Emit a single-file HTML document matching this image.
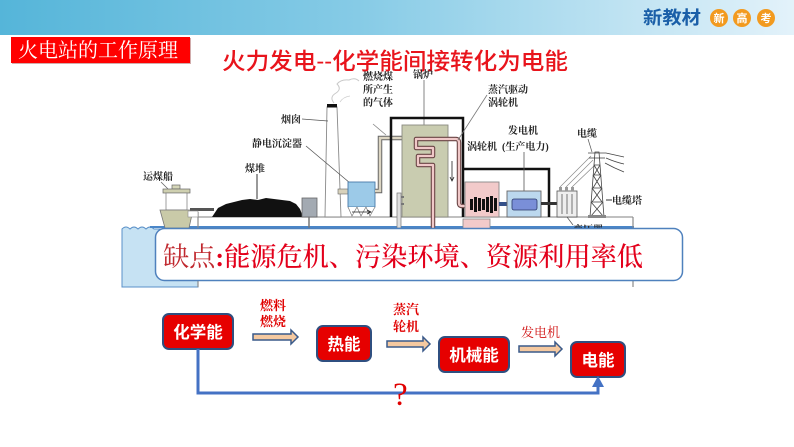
<!DOCTYPE html>
<html>
<head>
<meta charset="utf-8">
<style>
html,body{margin:0;padding:0;background:#fff;}
body{width:794px;height:447px;overflow:hidden;}
svg{display:block;}
.lbl{font-family:"Liberation Serif","Noto Serif CJK SC",serif;font-weight:700;font-size:10px;fill:#222;}
.sans{font-family:"Liberation Sans","Noto Sans CJK SC",sans-serif;}
.serif{font-family:"Liberation Serif","Noto Serif CJK SC",serif;}
</style>
</head>
<body>
<svg width="794" height="447" viewBox="0 0 794 447" xmlns="http://www.w3.org/2000/svg">
<defs>
<linearGradient id="hdr" x1="0" y1="0" x2="1" y2="0">
<stop offset="0" stop-color="#55b5d9"/>
<stop offset="0.45" stop-color="#86cbe6"/>
<stop offset="1" stop-color="#e3f2fa"/>
</linearGradient>
</defs>

<!-- header -->
<rect x="0" y="0" width="794" height="35" fill="url(#hdr)"/>
<text x="643" y="24" class="sans" font-size="18" font-weight="700" fill="#1a5fa8" textLength="58" lengthAdjust="spacingAndGlyphs">新教材</text>
<circle cx="719" cy="18" r="9" fill="#f29a1f"/>
<circle cx="742" cy="18" r="9" fill="#f29a1f"/>
<circle cx="766" cy="18" r="9" fill="#f29a1f"/>
<text x="719" y="22" class="sans" font-size="11" font-weight="700" fill="#fff" text-anchor="middle">新</text>
<text x="742" y="22" class="sans" font-size="11" font-weight="700" fill="#fff" text-anchor="middle">高</text>
<text x="766" y="22" class="sans" font-size="11" font-weight="700" fill="#fff" text-anchor="middle">考</text>

<!-- red label -->
<rect x="12" y="38" width="179" height="26" fill="#7a1010" opacity="0.35"/>
<rect x="11" y="37" width="179" height="26" fill="#ff0000"/>
<text x="18" y="57" class="serif" font-size="20" fill="#fff" textLength="160" lengthAdjust="spacingAndGlyphs">火电站的工作原理</text>

<!-- title -->
<text x="222" y="69" class="sans" font-size="23" font-weight="500" fill="#e8141c" textLength="346" lengthAdjust="spacingAndGlyphs">火力发电--化学能间接转化为电能</text>

<!-- ===== power plant drawing ===== -->
<!-- water -->
<path d="M122 229 q4 -4 8 0 q4 -4 8 0 q4 -4 8 0 q4 -4 8 0 L198 229 L198 287 L122 287 Z" fill="#c6e2f3" stroke="#5a90c8" stroke-width="1"/>
<line x1="150" y1="227" x2="634" y2="227" stroke="#4a86c8" stroke-width="2"/>

<!-- base platform -->
<line x1="198" y1="217" x2="633" y2="217" stroke="#9a9a9a" stroke-width="1.2"/>
<line x1="198" y1="212" x2="198" y2="287" stroke="#8a8a8a" stroke-width="1.2"/>
<line x1="633" y1="217" x2="633" y2="287" stroke="#8a8a8a" stroke-width="1.2"/>

<!-- ship -->
<text x="143" y="180" class="lbl">运煤船</text>
<line x1="161" y1="182" x2="168" y2="189" stroke="#666" stroke-width="0.8"/>
<rect x="172" y="185" width="8" height="4" fill="#d5d6b8" stroke="#666" stroke-width="0.7"/>
<rect x="163" y="189" width="27" height="4" fill="#cfd0b0" stroke="#666" stroke-width="0.7"/>
<rect x="166" y="193" width="21" height="17" fill="#fff" stroke="#777" stroke-width="0.7"/>
<path d="M160 210 L193 210 L189 228 L165 228 Z" fill="#c9caa8" stroke="#777" stroke-width="0.8"/>
<rect x="190" y="208" width="24" height="3" fill="#555"/>
<rect x="188" y="211" width="10" height="6" fill="#fff" stroke="#888" stroke-width="0.6"/>

<!-- coal pile -->
<text x="245" y="172" class="lbl">煤堆</text>
<line x1="257" y1="174" x2="257" y2="199" stroke="#333" stroke-width="1"/>
<path d="M212 217 L218 208 L226 204 L234 202 L242 200 L250 199 L258 200 L266 198 L274 199 L282 200 L290 201 L296 204 L300 209 L303 217 Z" fill="#111"/>
<rect x="302" y="198" width="15" height="19" fill="#a3aab2" stroke="#666" stroke-width="0.8"/>
<line x1="309" y1="217" x2="309" y2="228" stroke="#777" stroke-width="1.5"/>

<!-- chimney -->
<path d="M334 103 q-5 -6 2 -10 q6 -4 1 -9 q4 -5 12 -4 q6 -3 10 1" fill="none" stroke="#c8c8c8" stroke-width="1"/>
<path d="M340 102 q3 -5 10 -6" fill="none" stroke="#d0d0d0" stroke-width="0.8"/>
<polygon points="327,107 337,107 341,217 325,217" fill="#fff" stroke="#8a8a8a" stroke-width="0.9"/>
<rect x="327" y="104" width="10" height="3.5" fill="#111"/>
<text x="281" y="123" class="lbl">烟囱</text>
<line x1="302" y1="119" x2="328" y2="121" stroke="#555" stroke-width="0.8"/>

<!-- precipitator -->
<text x="252" y="147" class="lbl">静电沉淀器</text>
<line x1="306" y1="146" x2="350" y2="183" stroke="#555" stroke-width="0.8"/>
<rect x="338" y="189" width="10" height="5" fill="#d8d2bc" stroke="#666" stroke-width="0.6"/>
<rect x="348" y="182" width="27" height="25" fill="#9ccae8" stroke="#4a7aa8" stroke-width="0.9"/>
<path d="M348 207 L352 216 L357 207 L361 216 L366 207 L370 216 L375 207" fill="#fff" stroke="#777" stroke-width="0.7"/>
<!-- gas pipe -->
<path d="M375 191 H380 V138 H402" fill="none" stroke="#666" stroke-width="4.5"/>
<path d="M375 191 H380 V138 H402" fill="none" stroke="#dcd5c2" stroke-width="2.5"/>
<text class="lbl"><tspan x="363" y="80">燃烧煤</tspan><tspan x="363" y="93">所产生</tspan><tspan x="363" y="106">的气体</tspan></text>
<line x1="373" y1="124" x2="386" y2="135" stroke="#888" stroke-width="0.8"/>
<path d="M352 212 H370" stroke="#222" stroke-width="0.8"/>
<path d="M367 210 L371 212 L367 214" fill="none" stroke="#222" stroke-width="0.8"/>

<!-- boiler -->
<text x="413" y="78" class="lbl">锅炉</text>
<line x1="424" y1="80" x2="424" y2="126" stroke="#666" stroke-width="0.8"/>
<path d="M391 217 V118 H463 V217" fill="none" stroke="#111" stroke-width="2.5"/>
<path d="M463 169 H549 V217" fill="none" stroke="#111" stroke-width="2.5"/>
<rect x="402" y="125" width="46" height="92" fill="#c9ccb0" stroke="#8a8a80" stroke-width="0.9"/>
<g fill="none" stroke-linejoin="round" stroke-linecap="round">
<path d="M433 228 V165 H418 V156 H433 V148 H416 V139 H456 Q459 139 459 143 V203 Q459 206 462 206 H472" stroke="#6a4545" stroke-width="4.5"/>
<path d="M433 228 V165 H418 V156 H433 V148 H416 V139 H456 Q459 139 459 143 V203 Q459 206 462 206 H472" stroke="#f0c8c8" stroke-width="2.3"/>
</g>
<line x1="452" y1="161" x2="452" y2="180" stroke="#222" stroke-width="0.8"/>
<path d="M450 177 L452 181 L454 177" fill="none" stroke="#222" stroke-width="0.8"/>
<rect x="397" y="193" width="4" height="35" fill="#e0e0e0" stroke="#777" stroke-width="0.7"/>
<rect x="401" y="196" width="3" height="2" fill="#777"/>
<rect x="401" y="203" width="3" height="2" fill="#777"/>
<line x1="487" y1="95" x2="458" y2="140" stroke="#777" stroke-width="0.8"/>
<text class="lbl" font-weight="600"><tspan x="488" y="93">蒸汽驱动</tspan><tspan x="488" y="106">涡轮机</tspan></text>
<text x="467" y="150" class="lbl" font-weight="600">涡轮机</text>

<!-- turbine -->
<rect x="465" y="182" width="34" height="35" fill="#f2caca" stroke="#888" stroke-width="0.9"/>
<rect x="463" y="219" width="27" height="10" fill="#f2caca" stroke="#888" stroke-width="0.8"/>
<g fill="#111">
<rect x="470" y="199" width="3" height="11"/>
<rect x="474" y="197" width="3" height="15"/>
<rect x="478" y="198" width="3" height="13"/>
<rect x="482" y="199" width="3" height="11"/>
<rect x="486" y="197" width="3" height="15"/>
<rect x="490" y="196" width="3" height="17"/>
<rect x="494" y="198" width="3" height="13"/>
</g>
<rect x="499" y="202" width="14" height="4" fill="#34508a"/>

<!-- generator -->
<text x="508" y="134" class="lbl" font-size="11">发电机</text>
<text x="502" y="150" class="lbl" font-weight="600">(生产电力)</text>
<line x1="524" y1="152" x2="524" y2="191" stroke="#555" stroke-width="0.8"/>
<rect x="507" y="191" width="34" height="26" fill="#bcd8ee" stroke="#666" stroke-width="0.9"/>
<rect x="512" y="199" width="25" height="11" rx="2" fill="#7a8fd8" stroke="#2a3a6a" stroke-width="0.8"/>
<rect x="541" y="202" width="16" height="3" fill="#333"/>

<!-- transformer -->
<rect x="557" y="191" width="20" height="26" fill="#eeeeee" stroke="#555" stroke-width="0.8"/>
<line x1="562" y1="194" x2="562" y2="214" stroke="#555" stroke-width="0.8"/>
<line x1="567" y1="194" x2="567" y2="214" stroke="#555" stroke-width="0.8"/>
<line x1="572" y1="194" x2="572" y2="214" stroke="#555" stroke-width="0.8"/>
<rect x="559" y="187" width="3" height="4" fill="#999"/>
<rect x="565" y="187" width="3" height="4" fill="#999"/>
<rect x="571" y="187" width="3" height="4" fill="#999"/>
<path d="M560 187 L591 156 M566 187 L593 160 M572 187 L595 165" stroke="#888" stroke-width="0.7" fill="none"/>
<text x="573" y="233" class="lbl">变压器</text>
<line x1="567" y1="217" x2="573" y2="225" stroke="#555" stroke-width="0.7"/>

<!-- tower -->
<g stroke="#444" stroke-width="0.8" fill="none">
<path d="M590 217 L595 152 L599 152 L604 217"/>
<path d="M588 153 H606"/>
<path d="M589 158 H605"/>
<path d="M594 165 L600 175 M600 165 L594 175 M593 175 L601 188 M601 175 L593 188 M592 188 L602 202 M602 188 L592 202 M591 202 L603 216 M603 202 L591 216"/>
<path d="M594 165 H600 M593 175 H601 M592 188 H602 M591 202 H603"/>
<path d="M606 153 Q615 155 624 157 M606 158 Q615 162 624 164 M605 163 Q614 168 624 172"/>
</g>
<rect x="588" y="215" width="18" height="3" fill="#888"/>
<text x="577" y="137" class="lbl">电缆</text>
<line x1="588" y1="139" x2="592" y2="152" stroke="#555" stroke-width="0.7"/>
<line x1="606" y1="200" x2="612" y2="200" stroke="#333" stroke-width="1"/>
<text x="612" y="204" class="lbl">电缆塔</text>

<!-- ===== callout ===== -->
<rect x="155.5" y="228.5" width="527" height="52" rx="9" fill="#fff" stroke="#4f81bd" stroke-width="1.5"/>
<text x="163" y="266" class="serif" font-size="26.5" textLength="480" lengthAdjust="spacingAndGlyphs"><tspan fill="#c0282e">缺点</tspan><tspan fill="#e3001b" font-weight="700">:</tspan><tspan fill="#e3001b" font-weight="500">能源危机、污染环境、资源利用率低</tspan></text>

<!-- ===== flow ===== -->
<g stroke="#2f4f80" stroke-width="2" fill="#e60000">
<rect x="163" y="314" width="70" height="35" rx="6"/>
<rect x="317" y="326" width="54" height="35" rx="6"/>
<rect x="439" y="337" width="70" height="35" rx="6"/>
<rect x="571" y="342" width="54" height="35" rx="6"/>
</g>
<g class="sans" font-size="16.5" font-weight="700" fill="#fff" text-anchor="middle">
<text x="198" y="338">化学能</text>
<text x="344" y="350">热能</text>
<text x="474" y="361">机械能</text>
<text x="598" y="366">电能</text>
</g>

<g fill="#f5c9a0" stroke="#3a5a8a" stroke-width="1.5" stroke-linejoin="miter">
<path d="M253 334 H291 V330 L298 337 L291 344 V340 H253 Z"/>
<path d="M387 341 H423 V337 L430 344 L423 351 V347 H387 Z"/>
<path d="M519 346 H555 V342 L562 349 L555 356 V352 H519 Z"/>
</g>

<g class="serif" font-size="13" font-weight="700" fill="#e00000">
<text x="260" y="310">燃料</text>
<text x="260" y="326">燃烧</text>
<text x="393" y="314">蒸汽</text>
<text x="393" y="331">轮机</text>
</g>
<text x="521" y="337" class="serif" font-size="13" fill="#d01010" textLength="39" lengthAdjust="spacingAndGlyphs">发电机</text>

<path d="M198 349 V393 H598 V386" fill="none" stroke="#4472c4" stroke-width="3"/>
<polygon points="598,376 604,387 592,387" fill="#4472c4"/>
<text x="393" y="405" font-family="Liberation Serif, serif" font-size="33" fill="#e00000">?</text>
</svg>
</body>
</html>
